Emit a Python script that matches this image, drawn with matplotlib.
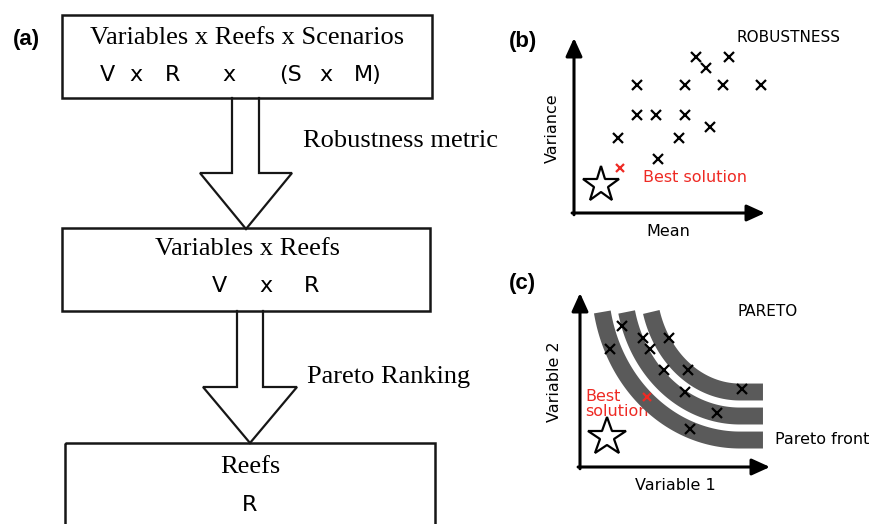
import numpy as np
import matplotlib.pyplot as plt
from matplotlib.patches import Rectangle

# flowchart (a)
stage_titles = ["Variables x Reefs x Scenarios", "Variables x Reefs", "Reefs"]
stage_dims = [["V", "x", "R", "x", "(S", "x", "M)"], ["V", "x", "R"], ["R"]]
step_labels = ["Robustness metric", "Pareto Ranking"]

# (b) robustness: mean vs variance of each solution
mean_b = [6.4, 6.9, 8.1, 3.3, 5.8, 7.8, 9.8, 3.3, 4.3, 5.8, 7.1, 2.3, 5.5, 4.4]
var_b = [8.9, 8.3, 8.9, 7.3, 7.3, 7.3, 7.3, 5.6, 5.6, 5.6, 4.9, 4.3, 4.3, 3.1]
best_b = [2.4, 2.6]
ideal_b = [1.4, 1.6]

# (c) pareto: variable 1 vs variable 2
var1_c = [2.2, 1.6, 3.3, 3.7, 4.7, 4.4, 5.7, 5.5, 8.5, 7.2, 5.8]
var2_c = [8.1, 6.8, 7.4, 6.8, 7.4, 5.6, 5.6, 4.3, 4.5, 3.1, 2.2]
best_c = [3.5, 4.0]
ideal_c = [1.4, 1.7]

# pareto fronts drawn as quarter ellipses (semi axes per front)
front_a = [7.37, 6.11, 4.84]
front_b = [9.02, 7.64, 6.26]

W, H = 888, 524
RED = "#ee2a24"
INK = "#161616"
SERIF = "Liberation Serif"
HAND = "DejaVu Sans"

fig = plt.figure(figsize=(W / 100, H / 100), dpi=100)
ax = fig.add_axes([0, 0, 1, 1])
ax.set_xlim(0, W)
ax.set_ylim(H, 0)
ax.axis("off")

## ---- (a) flowchart, pixel coords
ax.text(26, 39, "(a)", fontsize=16, fontweight="bold", family="Liberation Sans", ha="center", va="center")

boxes = [(62, 15, 432, 98), (62, 228, 430, 311), (65, 443, 435, 560)]
for l, t, r, b in boxes:
    ax.add_patch(Rectangle((l, t), r - l, b - t, fill=False, ec=INK, lw=1.8, clip_on=True))

title_pos = [(247, 38), (247, 249), (250, 467)]
for txt, (x, y) in zip(stage_titles, title_pos):
    ax.text(x, y, txt, family=SERIF, fontsize=19, ha="center", va="center")

dim_x = [[107, 136, 173, 229, 290, 326, 368], [219, 266, 312], [250]]
dim_y = [75, 286, 505]
for toks, xs, y in zip(stage_dims, dim_x, dim_y):
    for tok, x in zip(toks, xs):
        ax.text(x, y, tok, family=HAND, fontsize=16, ha="center", va="center")

# hollow down arrows
def down_arrow(x0, x1, ytop, yneck, hx0, hx1, tip_x, tip_y):
    ax.plot([x0, x0, hx0, tip_x, hx1, x1, x1], [ytop, yneck, yneck, tip_y, yneck, yneck, ytop],
            color=INK, lw=1.6, solid_joinstyle="miter")

down_arrow(232, 259, 98, 173, 200, 292, 246, 229)
down_arrow(237, 263, 311, 387, 203, 297, 250, 443)

ax.text(303, 141, step_labels[0], family=SERIF, fontsize=19, ha="left", va="center")
ax.text(307, 377, step_labels[1], family=SERIF, fontsize=19, ha="left", va="center")

## ---- panel helpers
def panel(l, t, r, b):
    pa = fig.add_axes([l / W, (H - b) / H, (r - l) / W, (b - t) / H])
    pa.set_xlim(0, 10)
    pa.set_ylim(0, 10)
    pa.axis("off")
    pa.patch.set_alpha(0)
    arrow = dict(arrowstyle="-|>,head_length=0.55,head_width=0.25", color="black",
                 lw=2.2, shrinkA=0, shrinkB=0, mutation_scale=20)
    pa.annotate("", xy=(0, 10), xytext=(0, -0.1), arrowprops=arrow, annotation_clip=False)
    pa.annotate("", xy=(10, 0), xytext=(-0.1, 0), arrowprops=arrow, annotation_clip=False)
    return pa

## ---- (b) robustness
ax.text(523, 41, "(b)", fontsize=16, fontweight="bold", family="Liberation Sans", ha="center", va="center")
pb = panel(574, 38, 765, 213)
pb.plot(mean_b, var_b, ls="none", marker="x", ms=7, mew=1.6, color="black", clip_on=False)
pb.plot(best_b[0], best_b[1], ls="none", marker="x", ms=6, mew=1.6, color=RED, clip_on=False)
pb.plot(ideal_b[0], ideal_b[1], ls="none", marker="*", ms=27, mfc="white", mec="black", mew=1.6, clip_on=False)

ax.text(788, 37, "ROBUSTNESS", family=HAND, fontsize=11, ha="center", va="center")
ax.text(695, 177, "Best solution", family=HAND, fontsize=11.5, color=RED, ha="center", va="center")
ax.text(668, 231, "Mean", family=HAND, fontsize=11.5, ha="center", va="center")
ax.text(552, 128, "Variance", family=HAND, fontsize=11.5, rotation=90, ha="center", va="center")

## ---- (c) pareto
ax.text(522, 283, "(c)", fontsize=16, fontweight="bold", family="Liberation Sans", ha="center", va="center")
pc = panel(580, 293, 770, 467)

cx, cy = 8.42, 10.57
for a, b in zip(front_a, front_b):
    t0 = np.arcsin((cy - 8.91) / b)
    t = np.linspace(t0, np.pi / 2, 120)
    fx = np.append(cx - a * np.cos(t), 9.63)
    fy = np.append(cy - b * np.sin(t), cy - b)
    pc.plot(fx, fy, color="#5a5a5a", lw=12.2, solid_capstyle="butt", clip_on=False, zorder=1)

pc.plot(var1_c, var2_c, ls="none", marker="x", ms=7, mew=1.6, color="black", clip_on=False, zorder=3)
pc.plot(best_c[0], best_c[1], ls="none", marker="x", ms=6, mew=1.6, color=RED, clip_on=False, zorder=3)
pc.plot(ideal_c[0], ideal_c[1], ls="none", marker="*", ms=29, mfc="white", mec="black", mew=1.6, clip_on=False)

ax.text(768, 312, "PARETO", family=HAND, fontsize=11, ha="center", va="center")
ax.text(585, 404, "Best\nsolution", family=HAND, fontsize=11.5, color=RED, ha="left", va="center", linespacing=0.95)
ax.text(675, 485, "Variable 1", family=HAND, fontsize=11.5, ha="center", va="center")
ax.text(554, 382, "Variable 2", family=HAND, fontsize=11.5, rotation=90, ha="center", va="center")
ax.text(775, 440, "Pareto front", family=HAND, fontsize=11.5, ha="left", va="center")

fig.savefig("out.png", dpi=100)
